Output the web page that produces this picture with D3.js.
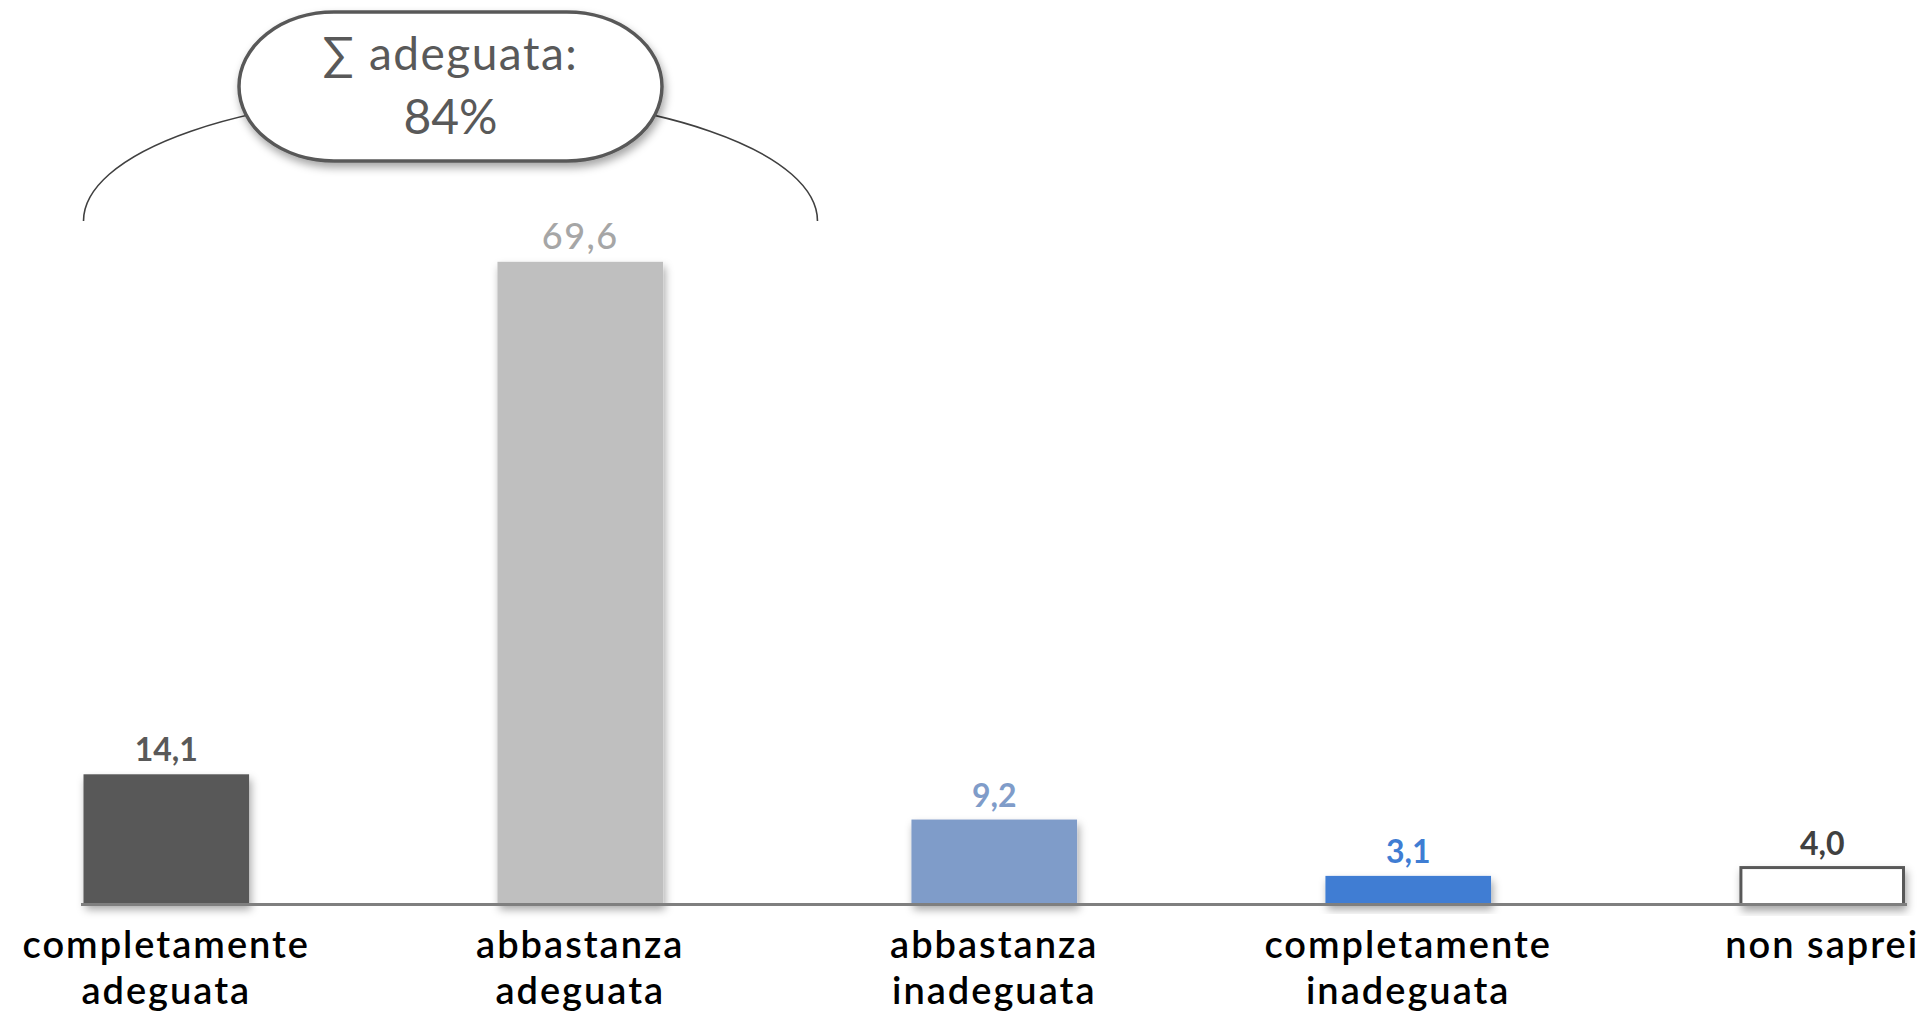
<!DOCTYPE html>
<html><head><meta charset="utf-8">
<script src="https://cdn.jsdelivr.net/npm/d3@7"></script>
<style>html,body{margin:0;padding:0;background:#fff;overflow:hidden}</style>
</head><body>
<svg id="chart" width="1927" height="1017"></svg>
<script>
const categories = [["completamente","adeguata"],["abbastanza","adeguata"],["abbastanza","inadeguata"],["completamente","inadeguata"],["non saprei"]];
const values = [14.1, 69.6, 9.2, 3.1, 4.0];
const valueLabels = ["14,1", "69,6", "9,2", "3,1", "4,0"];
const barColors = ["#595959", "#bfbfbf", "#7f9cc9", "#3f7dd3", "#ffffff"];
const labelColors = ["#595959", "#a6a6a6", "#7f9cc9", "#3f7dd3", "#404040"];
const calloutLines = ["∑ adeguata:", "84%"];

const svg = d3.select("#chart");
const font = "Lato, 'Noto Sans', sans-serif";
const defs = svg.append("defs");
const f = defs.append("filter").attr("id","sh").attr("x","-20%").attr("y","-20%").attr("width","140%").attr("height","150%");
f.append("feDropShadow").attr("dx",2).attr("dy",5).attr("stdDeviation",4).attr("flood-color","#000").attr("flood-opacity",0.35);

const keys = categories.map(c => c.join(" "));
const x = d3.scaleBand().domain(keys).range([83.5, 1905]).paddingInner(0.6).paddingOuter(0);
const y = d3.scaleLinear().domain([0, 70]).range([904.5, 258.1]);

// bars
const g = svg.append("g");
g.selectAll("rect.bar").data(values).join("rect")
  .attr("class","bar")
  .attr("x",(d,i)=>x(keys[i]) + (i===4?1.5:0))
  .attr("width",(d,i)=>x.bandwidth() - (i===4?3:0))
  .attr("y",d=>y(d))
  .attr("height",d=>y(0)-y(d))
  .attr("fill",(d,i)=>barColors[i])
  .attr("stroke",(d,i)=>i===4?"#595959":"none")
  .attr("stroke-width",3)
  .attr("filter","url(#sh)");

// baseline axis
const axis = d3.axisBottom(x).tickSize(0).tickFormat("");
const ax = svg.append("g").attr("transform",`translate(0,${y(0)})`).call(axis);
ax.select(".domain").attr("d",`M81,0H1907`).attr("stroke","#7f7f7f").attr("stroke-width",3);

// value labels
g.selectAll("text.val").data(values).join("text")
  .attr("class","val")
  .attr("x",(d,i)=>x(keys[i]) + x.bandwidth()/2)
  .attr("y",d=>y(d)-13)
  .attr("text-anchor","middle")
  .attr("font-family",font)
  .attr("font-weight",(d,i)=>i===1?500:700)
  .attr("font-size",(d,i)=>i===1?36:32)
  .attr("letter-spacing",(d,i)=>i===1?1.5:0)
  .attr("fill",(d,i)=>labelColors[i])
  .text((d,i)=>valueLabels[i]);

// category labels
const cl = svg.append("g").selectAll("text").data(categories).join("text")
  .attr("x",(d,i)=>x(keys[i]) + x.bandwidth()/2)
  .attr("y",958)
  .attr("text-anchor","middle")
  .attr("font-family",font).attr("font-weight",600).attr("font-size",38)
  .attr("letter-spacing",2)
  .attr("fill","#000");
cl.selectAll("tspan").data(d=>d).join("tspan")
  .attr("x",function(){return this.parentNode.getAttribute("x");})
  .attr("dy",(d,i)=>i===0?0:46)
  .text(d=>d);

// brace arc over the two "adeguata" bars
const x0 = x(keys[0]), x1 = x(keys[1]) + x.bandwidth() + 0.373 * x.step();
const cx = (x0 + x1) / 2, rx = (x1 - x0) / 2, ry = 127, cy = 221;
svg.append("path")
  .attr("d",`M${x0},${cy} A${rx},${ry} 0 0 1 ${x1},${cy}`)
  .attr("fill","none").attr("stroke","#404040").attr("stroke-width",1.6);

// callout pill
const pw = 423, ph = 149, px = cx - pw/2, py = 12;
svg.append("rect").attr("x",px).attr("y",py).attr("width",pw).attr("height",ph)
  .attr("rx",95).attr("ry",ph/2)
  .attr("fill","#fff").attr("stroke","#595959").attr("stroke-width",3.5)
  .attr("filter","url(#sh)");
svg.append("text").attr("x",cx).attr("y",70).attr("text-anchor","middle")
  .attr("font-family",font).attr("font-size",46).attr("letter-spacing",1.5).attr("fill","#595959").text(calloutLines[0]);
svg.append("text").attr("x",cx).attr("y",134).attr("text-anchor","middle")
  .attr("font-family",font).attr("font-size",48).attr("fill","#595959").text(calloutLines[1]);
</script>
</body></html>
